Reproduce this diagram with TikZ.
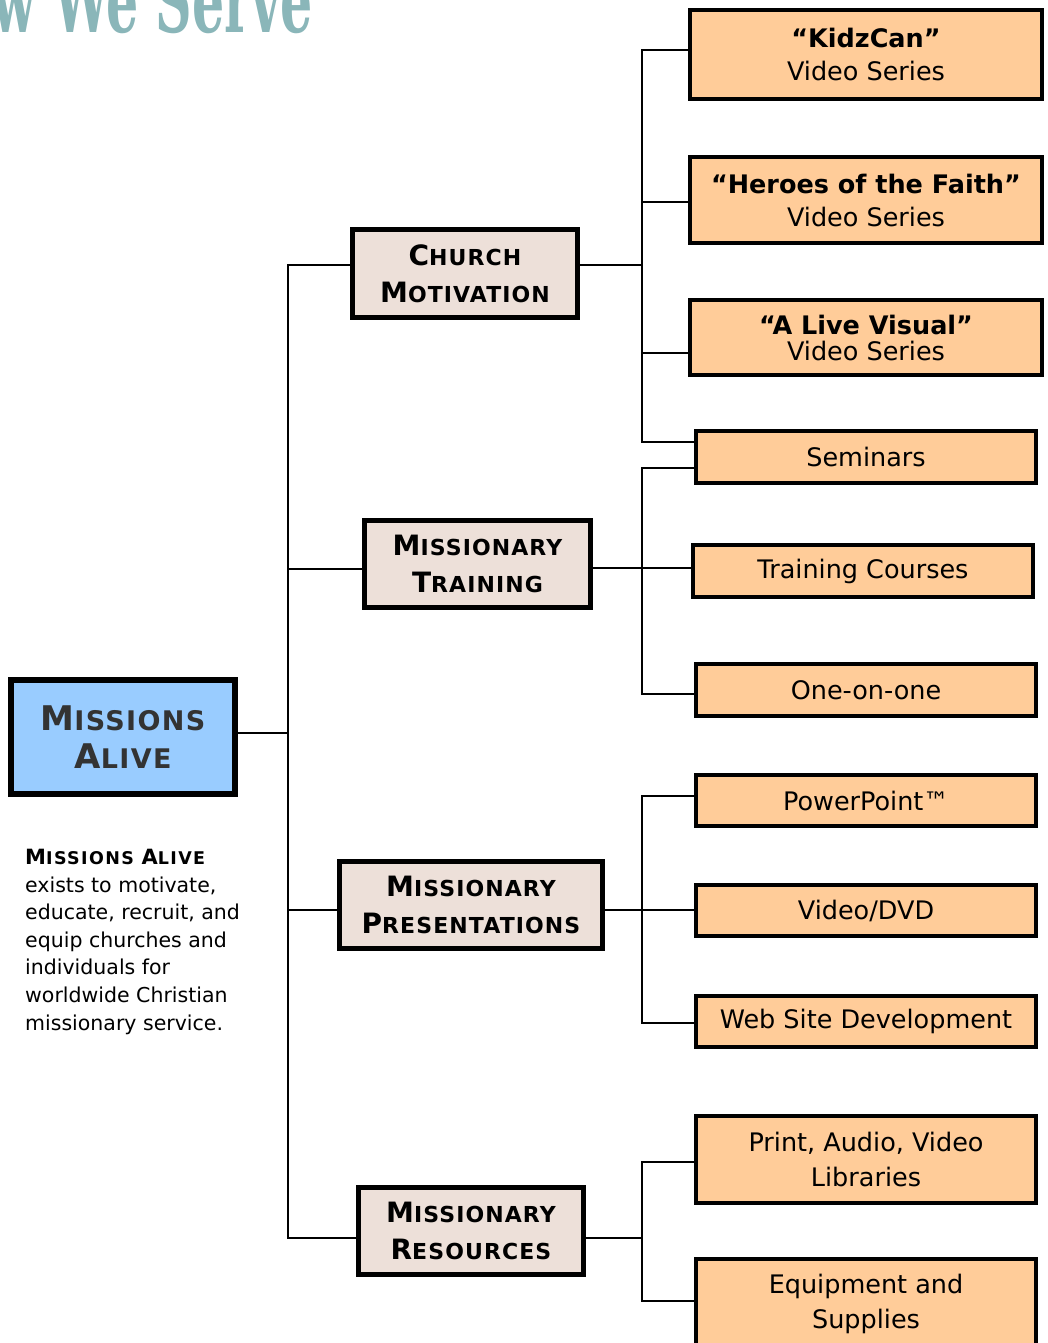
\documentclass[tikz,border=0pt]{standalone}
\usepackage{fontspec}
\setmainfont{DejaVu Sans}
\newfontfamily\scf[LetterSpace=8]{DejaVu Sans}
\newfontfamily\scg[LetterSpace=5]{DejaVu Sans}
\newfontfamily\titlefont[FakeStretch=0.55]{DejaVu Serif}
\definecolor{rootfill}{HTML}{99CCFF}
\definecolor{roottext}{HTML}{333333}
\definecolor{midfill}{HTML}{EDE0D9}
\definecolor{leaffill}{HTML}{FFCC99}
\definecolor{titlecol}{HTML}{8AB6B9}
\newcommand{\scw}[3]{{\fontsize{#1}{#1}\selectfont #2}#3}
\begin{document}
\begin{tikzpicture}[x=1pt,y=-1pt,
  conn/.style={line width=1.8pt, line cap=rect},
  rootbox/.style={draw, line width=6pt, fill=rootfill, text=roottext, inner sep=0pt, align=center,
    font=\scg\bfseries\fontsize{27}{38}\selectfont},
  midbox/.style={draw, line width=5pt, fill=midfill, inner sep=0pt, align=center,
    minimum height=87, font=\scg\bfseries\fontsize{22}{37}\selectfont},
  leafbox/.style={draw, line width=4pt, fill=leaffill, inner sep=0pt, align=center,
    minimum width=340, minimum height=52, font=\fontsize{25.5}{33}\selectfont},
  desc/.style={inner sep=0pt, align=left, font=\fontsize{20.5}{27.6}\selectfont}
]
\useasboundingbox (0,0) rectangle (1048,1343);
\clip (0,0) rectangle (1048,1343);

% title
\node[anchor=base east, inner sep=0pt, text=titlecol, font=\titlefont\bfseries\fontsize{92}{92}\selectfont] (title) at (313,33) {How We Serve};

% root
\node[rootbox, minimum width=224, minimum height=114] (root) at (123,737)
  {\scw{34}{M}{ISSIONS}\\\scw{34}{A}{LIVE}};

% description
\node[desc, anchor=north west] (desc) at (25,849)
  {{\scf\bfseries\fontsize{17.5}{27.6}\selectfont\scw{21}{M}{ISSIONS} \scw{21}{A}{LIVE}}\\
   exists to motivate,\\
   educate, recruit, and\\
   equip churches and\\
   individuals for\\
   worldwide Christian\\
   missionary service.};

% level 1
\node[midbox, minimum width=225, minimum height=88] (cm) at (465,273.5)
  {\scw{28}{C}{HURCH}\\\scw{28}{M}{OTIVATION}};
\node[midbox, minimum width=226] (mt) at (477.5,564)
  {\scw{28}{M}{ISSIONARY}\\\scw{28}{T}{RAINING}};
\node[midbox, minimum width=263] (mp) at (471,905)
  {\scw{28}{M}{ISSIONARY}\\\scw{28}{P}{RESENTATIONS}};
\node[midbox, minimum width=225] (mr) at (471,1231)
  {\scw{28}{M}{ISSIONARY}\\\scw{28}{R}{ESOURCES}};

% level 2
\node[leafbox, minimum width=352, minimum height=89] (k) at (866,54.5)
  {\textbf{“KidzCan”}\\Video Series};
\node[leafbox, minimum width=352, minimum height=86] (h) at (866,200)
  {\textbf{“Heroes of the Faith”}\\Video Series};
\node[leafbox, minimum width=352, minimum height=75, font=\fontsize{25.5}{26}\selectfont] (av) at (866,337.5)
  {\textbf{“A Live Visual”}\\Video Series};
\node[leafbox] (sem) at (866,457) {Seminars};
\node[leafbox] (tc) at (863,571) {Training Courses};
\node[leafbox] (one) at (866,690) {One-on-one};
\node[leafbox, minimum height=51] (pp) at (866,800.5) {PowerPoint™};
\node[leafbox, minimum height=51] (vd) at (866,910.5) {Video/DVD};
\node[leafbox, minimum height=51] (web) at (866,1021.5) {Web Site Development};
\node[leafbox, minimum height=87, font=\fontsize{25.5}{35}\selectfont] (pr) at (866,1159.5)
  {Print, Audio, Video\\Libraries};
\node[leafbox, minimum height=89, font=\fontsize{25.5}{35}\selectfont] (eq) at (866,1303.5)
  {Equipment and\\Supplies};

% main trunk
\coordinate (ta) at (288,265);
\coordinate (tm) at (288,569);
\coordinate (tr) at (288,733);
\coordinate (tp) at (288,910);
\coordinate (tb) at (288,1238);
\draw[conn] (ta) -- (tb);
\draw[conn] (root.east |- tr) -- (tr);
\draw[conn] (ta) -- (cm.west |- ta);
\draw[conn] (tm) -- (mt.west |- tm);
\draw[conn] (tp) -- (mp.west |- tp);
\draw[conn] (tb) -- (mr.west |- tb);

% church motivation group
\coordinate (ca) at (642,50);
\coordinate (ch) at (642,202);
\coordinate (cv) at (642,353);
\coordinate (cb) at (642,442);
\coordinate (cc) at (642,265);
\draw[conn] (cm.east |- cc) -- (cc);
\draw[conn] (ca) -- (cb);
\draw[conn] (ca) -- (k.west |- ca);
\draw[conn] (ch) -- (h.west |- ch);
\draw[conn] (cv) -- (av.west |- cv);
\draw[conn] (cb) -- (sem.west |- cb);

% missionary training group
\coordinate (ma) at (642,468);
\coordinate (mb) at (642,694);
\coordinate (mc) at (642,568);
\draw[conn] (mt.east |- mc) -- (tc.west |- mc);
\draw[conn] (ma) -- (mb);
\draw[conn] (ma) -- (sem.west |- ma);
\draw[conn] (mb) -- (one.west |- mb);

% missionary presentations group
\coordinate (pa) at (642,796);
\coordinate (pb) at (642,1023);
\coordinate (pc) at (642,910);
\draw[conn] (mp.east |- pc) -- (vd.west |- pc);
\draw[conn] (pa) -- (pb);
\draw[conn] (pa) -- (pp.west |- pa);
\draw[conn] (pb) -- (web.west |- pb);

% missionary resources group
\coordinate (ra) at (642,1162);
\coordinate (rb) at (642,1301);
\coordinate (rc) at (642,1238);
\draw[conn] (mr.east |- rc) -- (rc);
\draw[conn] (ra) -- (rb);
\draw[conn] (ra) -- (pr.west |- ra);
\draw[conn] (rb) -- (eq.west |- rb);
\end{tikzpicture}
\end{document}
